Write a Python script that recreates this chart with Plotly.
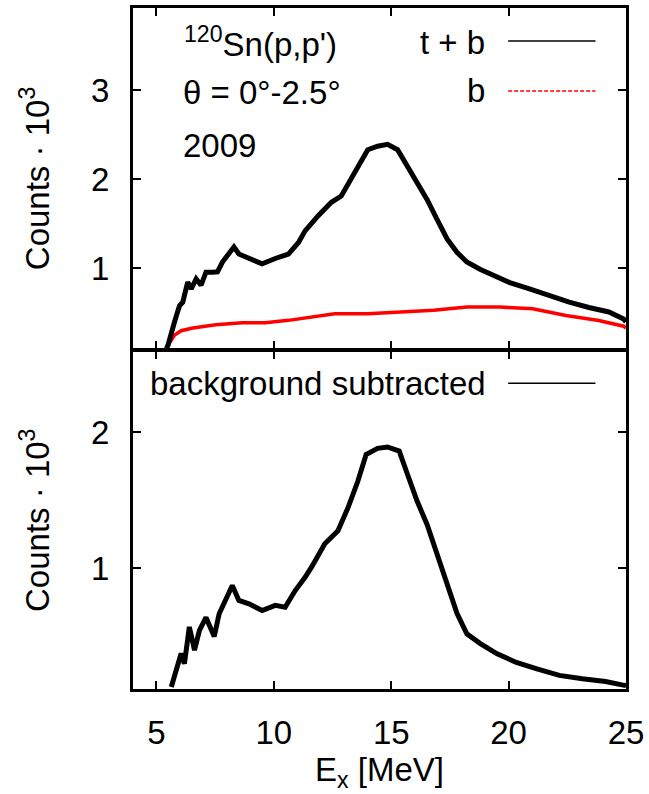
import plotly.graph_objects as go

# Excitation energy [MeV] and counts (in units of 10^3)
x_tb = [5.42, 5.49, 5.77, 5.98, 6.12, 6.33, 6.48, 6.69, 6.90, 7.11, 7.39, 7.60, 7.81, 8.09,
        8.30, 8.51, 8.94, 9.50, 10.06, 10.62, 11.05, 11.33, 11.89, 12.45, 12.87, 13.30,
        13.72, 14.0, 14.42, 14.84, 15.27, 15.69, 16.11, 16.53, 16.95, 17.38, 17.8, 18.22,
        18.78, 19.35, 20.05, 20.89, 21.73, 22.58, 23.42, 24.27, 24.9, 25.0]
y_tb = [0.10, 0.137, 0.40, 0.58, 0.62, 0.845, 0.77, 0.88, 0.81, 0.957, 0.957, 0.96, 1.07, 1.18,
        1.24, 1.16, 1.11, 1.05, 1.11, 1.16, 1.29, 1.42, 1.59, 1.74, 1.81, 2.00,
        2.18, 2.33, 2.37, 2.39, 2.33, 2.15, 1.96, 1.77, 1.55, 1.33, 1.18, 1.07,
        0.99, 0.92, 0.84, 0.77, 0.695, 0.62, 0.56, 0.51, 0.43, 0.40]

x_b = [5.42, 5.49, 5.77, 6.05, 6.55, 7.53, 8.65, 9.64, 10.62, 11.33, 12.59, 14.0, 15.41,
       16.81, 18.22, 19.63, 21.03, 22.44, 23.84, 24.9, 25.0]
y_b = [0.10, 0.137, 0.25, 0.30, 0.33, 0.367, 0.39, 0.388, 0.416, 0.44, 0.49, 0.49, 0.51,
       0.53, 0.565, 0.565, 0.545, 0.47, 0.415, 0.35, 0.33]

x_sub = [5.63, 5.91, 6.05, 6.19, 6.40, 6.62, 6.83, 7.11, 7.46, 7.67, 7.95, 8.23, 8.51, 8.94,
         9.50, 10.06, 10.48, 10.91, 11.33, 11.61, 12.17, 12.73, 13.16, 13.58, 13.93, 14.42,
         14.84, 15.34, 15.69, 16.11, 16.53, 16.95, 17.38, 17.8, 18.22, 18.78, 19.49,
         20.33, 21.17, 22.16, 23.14, 24.13, 24.83, 25.0]
y_sub = [0.13, 0.28, 0.375, 0.30, 0.57, 0.40, 0.545, 0.64, 0.50, 0.667, 0.764, 0.874, 0.764, 0.74,
         0.69, 0.728, 0.715, 0.837, 0.934, 1.01, 1.18, 1.275, 1.445, 1.64, 1.835, 1.88,
         1.89, 1.86, 1.69, 1.49, 1.32, 1.105, 0.885, 0.67, 0.52, 0.45, 0.375,
         0.31, 0.265, 0.215, 0.19, 0.17, 0.145, 0.14]

x_ticks = [5, 10, 15, 20, 25]
top_y_ticks = [1, 2, 3]
bot_y_ticks = [1, 2]

FONT = "Liberation Sans, Arial, sans-serif"
FS = 33

fig = go.Figure()
fig.add_trace(go.Scatter(x=x_b, y=y_b, mode="lines", line=dict(color="#ff0000", width=3.5),
                         xaxis="x2", yaxis="y2", showlegend=False))
fig.add_trace(go.Scatter(x=x_tb, y=y_tb, mode="lines", line=dict(color="black", width=5),
                         xaxis="x2", yaxis="y2", showlegend=False))
fig.add_trace(go.Scatter(x=x_sub, y=y_sub, mode="lines", line=dict(color="black", width=5),
                         xaxis="x", yaxis="y", showlegend=False))

axis_common = dict(showline=True, linecolor="black", linewidth=3, mirror="allticks",
                   ticks="inside", ticklen=8, tickwidth=2, tickcolor="black",
                   showgrid=False, zeroline=False,
                   tickfont=dict(family=FONT, size=FS, color="black"))

fig.update_layout(
    width=649, height=794,
    margin=dict(l=133, r=18, t=5, b=105),
    paper_bgcolor="white", plot_bgcolor="white",
    font=dict(family=FONT, size=FS, color="black"),
    xaxis=dict(domain=[0, 1], range=[4, 25], tickvals=x_ticks, anchor="y",
               ticklabelstandoff=12, ticklabeloverflow="allow",
               title=dict(text="E<sub>x</sub> [MeV]", standoff=8,
                          font=dict(family=FONT, size=FS)),
               **axis_common),
    xaxis2=dict(domain=[0, 1], range=[4, 25], tickvals=x_ticks, anchor="y2",
                matches="x", showticklabels=False, **axis_common),
    yaxis=dict(domain=[0, 0.4956], range=[0.115, 2.59], tickvals=bot_y_ticks, anchor="x",
               ticklabelstandoff=14,
               title=dict(text="Counts · 10<sup>3</sup>", standoff=32,
                          font=dict(family=FONT, size=FS)),
               **axis_common),
    yaxis2=dict(domain=[0.4993, 1], range=[0.095, 3.92], tickvals=top_y_ticks, anchor="x2",
                ticklabelstandoff=14,
                title=dict(text="Counts · 10<sup>3</sup>", standoff=32,
                           font=dict(family=FONT, size=FS)),
                **axis_common),
)

# Labels in the top panel
fig.add_annotation(xref="x2", yref="y2", x=6.1, y=3.54, xanchor="left", yanchor="middle",
                   text="<sup>120</sup>Sn(p,p')", showarrow=False,
                   font=dict(family=FONT, size=FS))
fig.add_annotation(xref="x2", yref="y2", x=6.05, y=2.97, xanchor="left", yanchor="middle",
                   text="θ = 0°-2.5°", showarrow=False, font=dict(family=FONT, size=FS))
fig.add_annotation(xref="x2", yref="y2", x=6.05, y=2.38, xanchor="left", yanchor="middle",
                   text="2009", showarrow=False, font=dict(family=FONT, size=FS))

# Key entries (text to the left of the sample line)
fig.add_annotation(xref="x2", yref="y2", x=19.1, y=3.53, xanchor="right", yanchor="middle",
                   text="t + b", showarrow=False, font=dict(family=FONT, size=FS))
fig.add_shape(type="line", xref="x2", yref="y2", x0=19.98, x1=23.7, y0=3.55, y1=3.55,
              line=dict(color="black", width=1.5))
fig.add_annotation(xref="x2", yref="y2", x=19.1, y=2.99, xanchor="right", yanchor="middle",
                   text="b", showarrow=False, font=dict(family=FONT, size=FS))
fig.add_shape(type="line", xref="x2", yref="y2", x0=19.98, x1=23.7, y0=2.99, y1=2.99,
              line=dict(color="#ff0000", width=1.5, dash="4px,2px"))

fig.add_annotation(xref="x", yref="y", x=4.62, y=2.355, xanchor="left", yanchor="middle",
                   text="background subtracted", showarrow=False,
                   font=dict(family=FONT, size=FS))
fig.add_shape(type="line", xref="x", yref="y", x0=19.98, x1=23.7, y0=2.358, y1=2.358,
              line=dict(color="black", width=1.5))

fig.write_html("out.html", config={"displayModeBar": False},
               post_script="document.body.style.margin='0';")
